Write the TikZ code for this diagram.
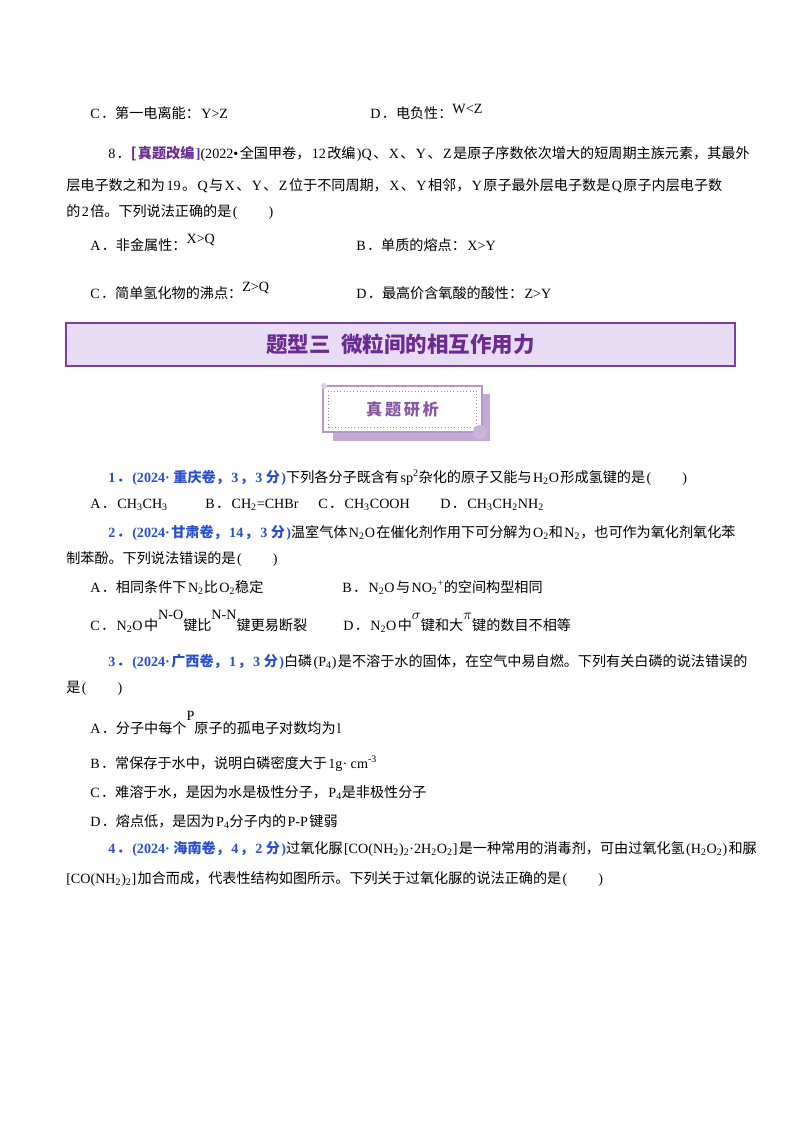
\documentclass[tikz,border=0pt]{standalone}
\usepackage{fontspec}
\setmainfont{Liberation Serif}
\newfontfamily\cjk{Noto Sans CJK SC}
\newfontfamily\latin{Liberation Serif}
\XeTeXinterchartokenstate=1
\newXeTeXintercharclass\CJKcls
\count255="4E00 \loop \XeTeXcharclass\count255=\CJKcls \ifnum\count255<"9FFF \advance\count255 by 1 \repeat
\count255="3000 \loop \XeTeXcharclass\count255=\CJKcls \ifnum\count255<"303F \advance\count255 by 1 \repeat
\count255="FF00 \loop \XeTeXcharclass\count255=\CJKcls \ifnum\count255<"FFEF \advance\count255 by 1 \repeat
\XeTeXinterchartoks 0 \CJKcls = {\hskip0.1em\cjk}
\XeTeXinterchartoks 4095 \CJKcls = {\cjk}
\XeTeXinterchartoks \CJKcls 0 = {\hskip0.1em\latin}
\XeTeXinterchartoks \CJKcls 4095 = {\latin}
\definecolor{qblue}{HTML}{2A4FD0}
\definecolor{purp}{HTML}{6A2C91}
\definecolor{lav}{HTML}{E8DCF5}
\definecolor{bdr}{HTML}{7B3FA0}
\newcommand{\sub}[1]{\textsubscript{#1}}
\newcommand{\sps}[1]{\textsuperscript{#1}}
\begin{document}
\begin{tikzpicture}[x=0.7437pt,y=-0.7437pt,
  ln/.style={anchor=base west,inner sep=0pt,font=\fontsize{10.5}{12}\selectfont}]
\useasboundingbox[fill=white] (0,0) rectangle (800,1132);
\node[ln] (c7) at (90,118) {C．第一电离能：Y>Z};
\node[ln] (d7) at (370,118) {D．电负性：\raisebox{3pt}{W<Z}};
\node[ln] (q8a) at (108,158) {8．\textcolor{purp}{\bfseries\cjk [真题改编]}(2022•全国甲卷，12改编)Q、X、Y、Z是原子序数依次增大的短周期主族元素，其最外};
\node[ln] (q8b) at (66,190) {层电子数之和为19。Q与X、Y、Z位于不同周期，X、Y相邻，Y原子最外层电子数是Q原子内层电子数};
\node[ln] (q8c) at (66,216) {的2倍。下列说法正确的是(\hspace{2.2em})};
\node[ln] (a8) at (90,250) {A．非金属性：\raisebox{5pt}{X>Q}};
\node[ln] (b8) at (356,250) {B．单质的熔点：X>Y};
\node[ln] (c8) at (90,298) {C．简单氢化物的沸点：\raisebox{5pt}{Z>Q}};
\node[ln] (d8) at (356,298) {D．最高价含氧酸的酸性：Z>Y};
% title box
\node[draw=bdr,line width=1.5pt,fill=lav,minimum width=669*0.7437pt,minimum height=43*0.7437pt,inner sep=0pt] (tb) at (400.5,344.5) {};
\node[text=purp,font=\fontsize{16}{18}\selectfont\bfseries\cjk] (tt) at (tb) {题型三\ \ 微粒间的相互作用力};
% badge
\fill[bdr!45] (333,394) rectangle (490,441);
\fill[white] (323,386) rectangle (482,432);
\draw[bdr!55,line width=0.8pt] (323,386) rectangle (482,432);
\node[draw=bdr!70,dotted,minimum width=148*0.7437pt,minimum height=36*0.7437pt,inner sep=0pt] (bd) at (402.5,409) {};
\node[text=purp!80,font=\fontsize{12}{14}\selectfont\bfseries\cjk] (bt) at (bd) {真\,题\,研\,析};
\fill[bdr!40] (480,432) circle (7);
\fill[bdr!25] (324,386) circle (3);
% Q1
\node[ln] (q1) at (108,482) {\textcolor{qblue}{\bfseries 1．(2024· 重庆卷，3，3 分)}下列各分子既含有sp\sps{2}杂化的原子又能与H\sub{2}O形成氢键的是(\hspace{2.2em})};
\node[ln] (a1) at (90,508) {A．CH\sub{3}CH\sub{3}};
\node[ln] (b1) at (205,508) {B．CH\sub{2}=CHBr};
\node[ln] (c1) at (318,508) {C．CH\sub{3}COOH};
\node[ln] (d1) at (440,508) {D．CH\sub{3}CH\sub{2}NH\sub{2}};
% Q2
\node[ln] (q2a) at (108,537) {\textcolor{qblue}{\bfseries 2．(2024·甘肃卷，14，3 分)}温室气体N\sub{2}O在催化剂作用下可分解为O\sub{2}和N\sub{2}，也可作为氧化剂氧化苯};
\node[ln] (q2b) at (66,563) {制苯酚。下列说法错误的是(\hspace{2.2em})};
\node[ln] (a2) at (90,592) {A．相同条件下N\sub{2}比O\sub{2}稳定};
\node[ln] (b2) at (342,592) {B．N\sub{2}O与NO\sub{2}\sps{+}的空间构型相同};
\node[ln] (c2) at (90,630) {C．N\sub{2}O中\raisebox{8pt}{N-O}键比\raisebox{8pt}{N-N}键更易断裂};
\node[ln] (d2) at (343,630) {D．N\sub{2}O中\raisebox{8pt}{$\sigma$}键和大\raisebox{8pt}{$\pi$}键的数目不相等};
% Q3
\node[ln] (q3a) at (108,666) {\textcolor{qblue}{\bfseries 3．(2024·广西卷，1，3 分)}白磷(P\sub{4})是不溶于水的固体，在空气中易自燃。下列有关白磷的说法错误的};
\node[ln] (q3b) at (66,692) {是(\hspace{2.2em})};
\node[ln] (a3) at (90,733) {A．分子中每个\raisebox{9pt}{P}原子的孤电子对数均为l};
\node[ln] (b3) at (90,768) {B．常保存于水中，说明白磷密度大于1g· cm\sps{-3}};
\node[ln] (c3) at (90,797) {C．难溶于水，是因为水是极性分子，P\sub{4}是非极性分子};
\node[ln] (d3) at (90,826) {D．熔点低，是因为P\sub{4}分子内的P-P键弱};
% Q4
\node[ln] (q4a) at (108,853) {\textcolor{qblue}{\bfseries 4．(2024· 海南卷，4，2 分)}过氧化脲[CO(NH\sub{2})\sub{2}·2H\sub{2}O\sub{2}]是一种常用的消毒剂，可由过氧化氢(H\sub{2}O\sub{2})和脲};
\node[ln] (q4b) at (66,883) {[CO(NH\sub{2})\sub{2}]加合而成，代表性结构如图所示。下列关于过氧化脲的说法正确的是(\hspace{2.2em})};
\end{tikzpicture}
\end{document}
